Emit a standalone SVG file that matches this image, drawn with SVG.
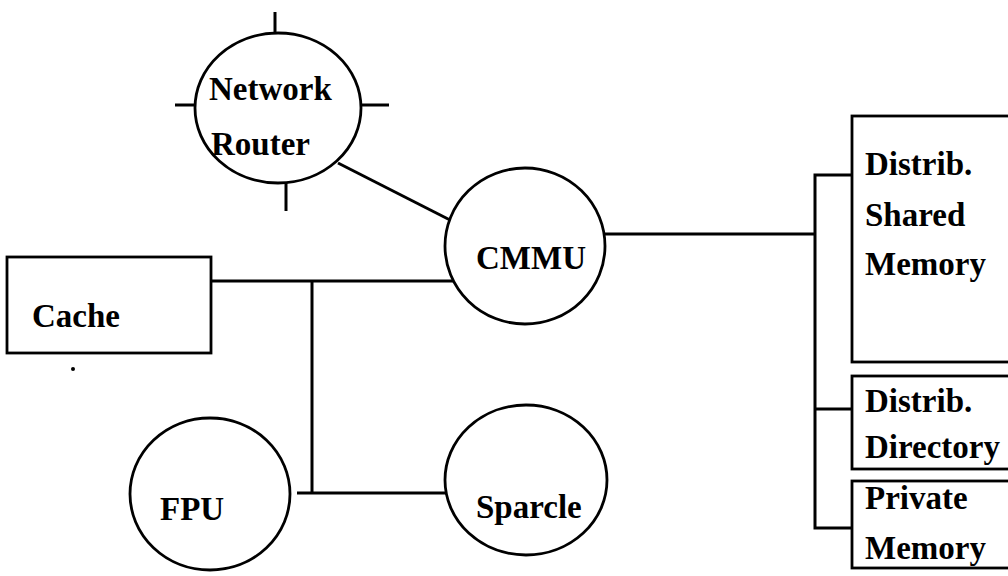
<svg xmlns="http://www.w3.org/2000/svg" width="1008" height="576" viewBox="0 0 1008 576">
  <style>
    .shape { fill: #fff; stroke: #000; stroke-width: 2.8; }
    .wire { fill: none; stroke: #000; stroke-width: 3; stroke-linecap: butt; }
    .label { font-family: "Liberation Serif", "Times New Roman", serif; font-weight: bold; font-size: 33px; fill: #000; }
  </style>
  <rect width="1008" height="576" fill="#fff"/>

  <!-- connectors -->
  <g id="connectors" class="wire">
    <!-- router to CMMU -->
    <line x1="338" y1="163" x2="452" y2="221"/>
    <!-- cache bus to CMMU -->
    <line x1="211" y1="281" x2="453" y2="281"/>
    <!-- drop to processor bus -->
    <line x1="312" y1="281" x2="312" y2="493"/>
    <line x1="297" y1="493" x2="446" y2="493"/>
    <!-- CMMU to memory bracket -->
    <line x1="605" y1="234" x2="815" y2="234"/>
    <polyline points="852,175 815,175 815,528 852,528"/>
    <line x1="815" y1="409" x2="852" y2="409"/>
  </g>

  <!-- network router with its four ports -->
  <g id="network-router">
    <g class="wire">
      <line x1="275" y1="12" x2="275" y2="34"/>
      <line x1="286" y1="182" x2="286" y2="211"/>
      <line x1="175" y1="105" x2="196" y2="105"/>
      <line x1="360" y1="105" x2="389" y2="105"/>
    </g>
    <ellipse class="shape" cx="278" cy="108" rx="83" ry="75"/>
    <text class="label" x="209" y="100">Network</text>
    <text class="label" x="211" y="155">Router</text>
  </g>

  <g id="cmmu">
    <ellipse class="shape" cx="525" cy="246" rx="80" ry="78"/>
    <text class="label" x="476" y="269">CMMU</text>
  </g>

  <g id="cache">
    <rect class="shape" x="7" y="257" width="204" height="96"/>
    <text class="label" x="32" y="327">Cache</text>
  </g>
  <circle cx="73" cy="369" r="2" fill="#000"/>

  <g id="fpu">
    <ellipse class="shape" cx="210" cy="494" rx="80" ry="76"/>
    <text class="label" x="160" y="520">FPU</text>
  </g>

  <g id="sparcle">
    <ellipse class="shape" cx="526" cy="480" rx="81" ry="75"/>
    <text class="label" x="476" y="518">Sparcle</text>
  </g>

  <g id="shared-memory">
    <rect class="shape" x="852" y="116" width="170" height="246"/>
    <text class="label" x="865" y="175">Distrib.</text>
    <text class="label" x="865" y="226">Shared</text>
    <text class="label" x="865" y="275">Memory</text>
  </g>

  <g id="directory">
    <rect class="shape" x="852" y="376" width="170" height="93"/>
    <text class="label" x="865" y="412">Distrib.</text>
    <text class="label" x="865" y="458">Directory</text>
  </g>

  <g id="private-memory">
    <rect class="shape" x="852" y="481" width="170" height="87"/>
    <text class="label" x="865" y="509">Private</text>
    <text class="label" x="865" y="559">Memory</text>
  </g>
</svg>
